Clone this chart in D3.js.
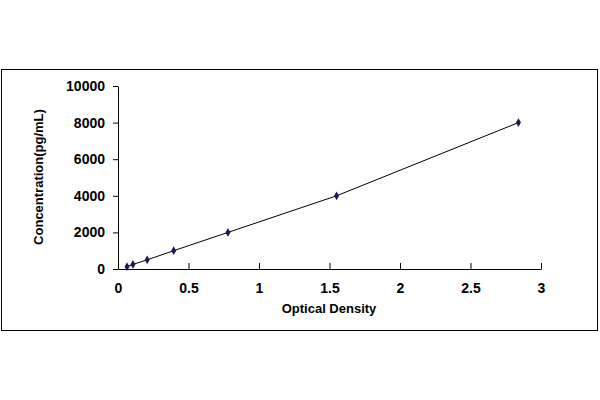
<!DOCTYPE html>
<html><head><meta charset="utf-8">
<script src="https://cdn.jsdelivr.net/npm/d3@7"></script>
<style>body{margin:0;background:#fff}text{font-family:Arial,"Liberation Sans",sans-serif;font-weight:bold}</style>
</head><body><div id="chart"></div>
<script>
var od = [0.064, 0.106, 0.207, 0.395, 0.78, 1.55, 2.84];
var conc = [125, 250, 500, 1000, 2000, 4000, 8000];
var xTicks = [0, 0.5, 1, 1.5, 2, 2.5, 3];
var yTicks = [0, 2000, 4000, 6000, 8000, 10000];

var svg = d3.select("#chart").append("svg").attr("width", 600).attr("height", 400);
svg.append("rect").attr("x", 1.5).attr("y", 69.5).attr("width", 596).attr("height", 261)
  .attr("fill", "none").attr("stroke", "#000");

var x = d3.scaleLinear().domain([0, 3]).range([118, 541]);
var y = d3.scaleLinear().domain([0, 10000]).range([269, 86]);

// X axis, ticks pointing up
var xa = svg.append("g").attr("transform", "translate(0,269)")
  .call(d3.axisBottom(x).tickValues(xTicks).tickFormat(d3.format("")).tickSizeInner(-6).tickSizeOuter(0).tickPadding(14));
xa.selectAll("text").style("font-size", "14px");

var ya = svg.append("g").attr("transform", "translate(118,0)")
  .call(d3.axisLeft(y).tickValues(yTicks).tickSizeInner(5).tickSizeOuter(0).tickPadding(8).tickFormat(d3.format("d")));
ya.selectAll("text").style("font-size", "14px");
svg.selectAll(".domain, .tick line").attr("stroke", "#000");

var pts = od.map((d, i) => [d, conc[i]]);
svg.append("path").datum(pts).attr("fill", "none").attr("stroke", "#000").attr("stroke-width", 1)
  .attr("d", d3.line().x(d => x(d[0])).y(d => y(d[1])));
svg.selectAll(".pt").data(pts).join("path").attr("class", "pt")
  .attr("transform", d => "translate(" + x(d[0]) + "," + y(d[1]) + ")")
  .attr("d", d3.symbol(d3.symbolDiamond, 22)).attr("fill", "#1a1a5e");

svg.append("text").attr("x", 329).attr("y", 313).attr("text-anchor", "middle")
  .style("font-size", "13px").text("Optical Density");
svg.append("text").attr("transform", "translate(43,177) rotate(-90)").attr("text-anchor", "middle")
  .style("font-size", "13px").text("Concentration(pg/mL)");
</script></body></html>
